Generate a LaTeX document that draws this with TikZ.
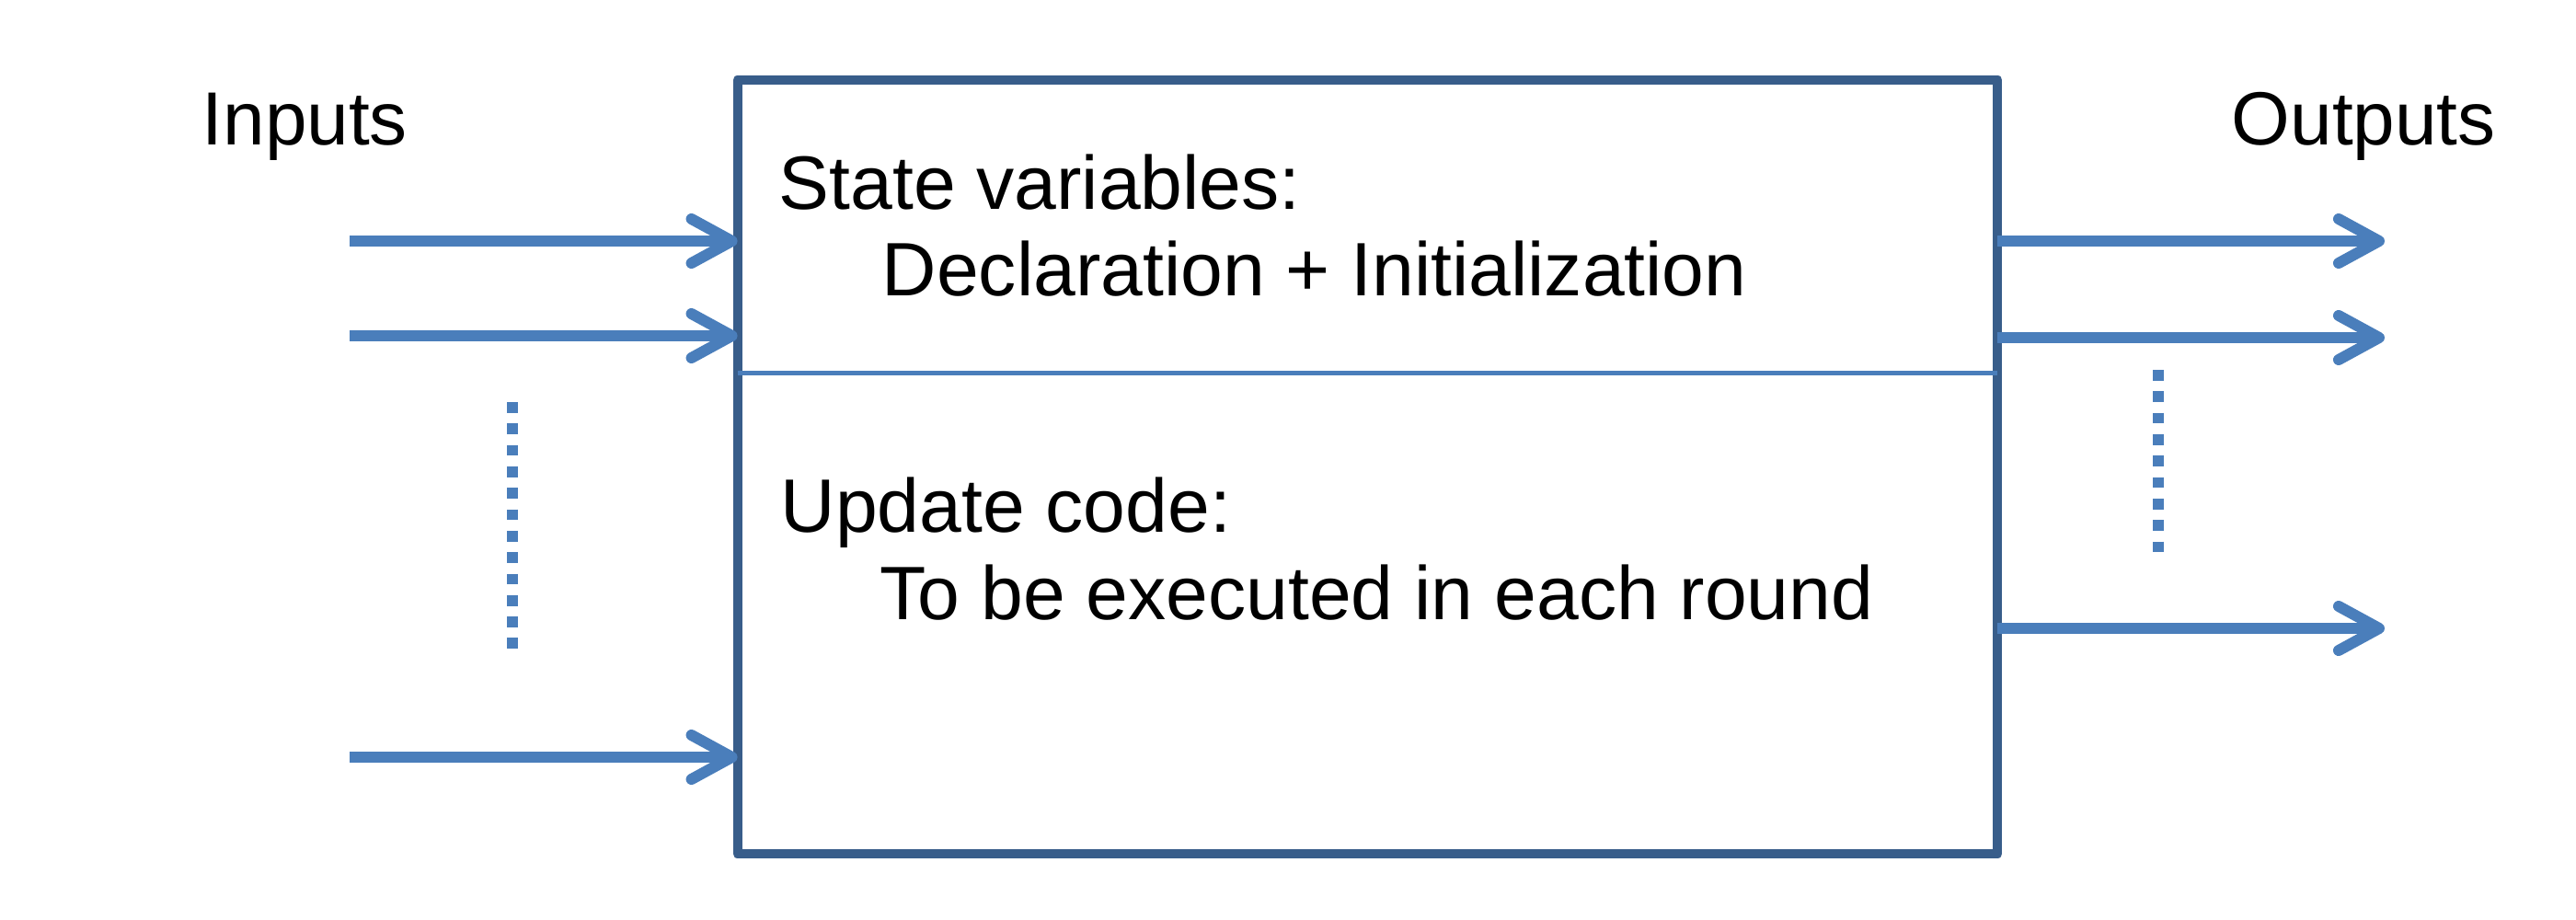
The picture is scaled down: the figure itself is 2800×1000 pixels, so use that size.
\documentclass[tikz,border=0pt]{standalone}
\usepackage{fontspec}
\setmainfont{Liberation Sans}
\usetikzlibrary{arrows.meta}
\definecolor{flowblue}{RGB}{74,126,187}
\definecolor{framecol}{RGB}{56,93,138}
\begin{document}
\begin{tikzpicture}[x=0.01cm,y=-0.01cm,
  flow/.style={draw=flowblue, line width=0.12cm,
    -{Straight Barb[length=0.44cm,width=0.48cm,line cap=round,line join=round]}},
  ellipsis/.style={draw=flowblue, line width=0.117cm, dash pattern=on 0.117cm off 0.116cm},
  boxtext/.style={anchor=base west, inner sep=0pt, font=\fontsize{23.4}{28}\selectfont},
  sidetext/.style={anchor=base west, inner sep=0pt, font=\fontsize{23.3}{28}\selectfont}]
\useasboundingbox (0,0) rectangle (2800,1000);

% main block
\node[draw=framecol, line width=0.1cm, line join=round, outer sep=0pt,
      minimum width=13.69cm, minimum height=8.41cm, inner sep=0pt] (box) at (1486.5,507.5) {};
\coordinate (divy) at (0,405);
\draw[flowblue, line width=0.05cm] (box.west |- divy) -- (box.east |- divy);

% texts
\node[sidetext] (inlabel) at (219,157) {Inputs};
\node[sidetext] (outlabel) at (2425,157) {Outputs};
\node[boxtext] (sv) at (846,227) {State variables:};
\node[boxtext] (decl) at (958,321) {Declaration + Initialization};
\node[boxtext] (upd) at (848,578) {Update code:};
\node[boxtext] (exec) at (956,673) {To be executed in each round};

% inputs
\coordinate (in1) at (380,262);
\coordinate (in2) at (380,365);
\coordinate (in3) at (380,823);
\draw[flow] (in1) -- (box.west |- in1);
\draw[flow] (in2) -- (box.west |- in2);
\draw[flow] (in3) -- (box.west |- in3);
\coordinate (ldot1) at (557,437);
\coordinate (ldot2) at (557,708);
\draw[ellipsis] (ldot1) -- (ldot2);

% outputs
\coordinate (out1) at (2592,262);
\coordinate (out2) at (2592,367);
\coordinate (out3) at (2592,683);
\draw[flow] (box.east |- out1) -- (out1);
\draw[flow] (box.east |- out2) -- (out2);
\draw[flow] (box.east |- out3) -- (out3);
\coordinate (rdot1) at (2346,402);
\coordinate (rdot2) at (2346,603);
\draw[ellipsis] (rdot1) -- (rdot2);
\end{tikzpicture}
\end{document}
